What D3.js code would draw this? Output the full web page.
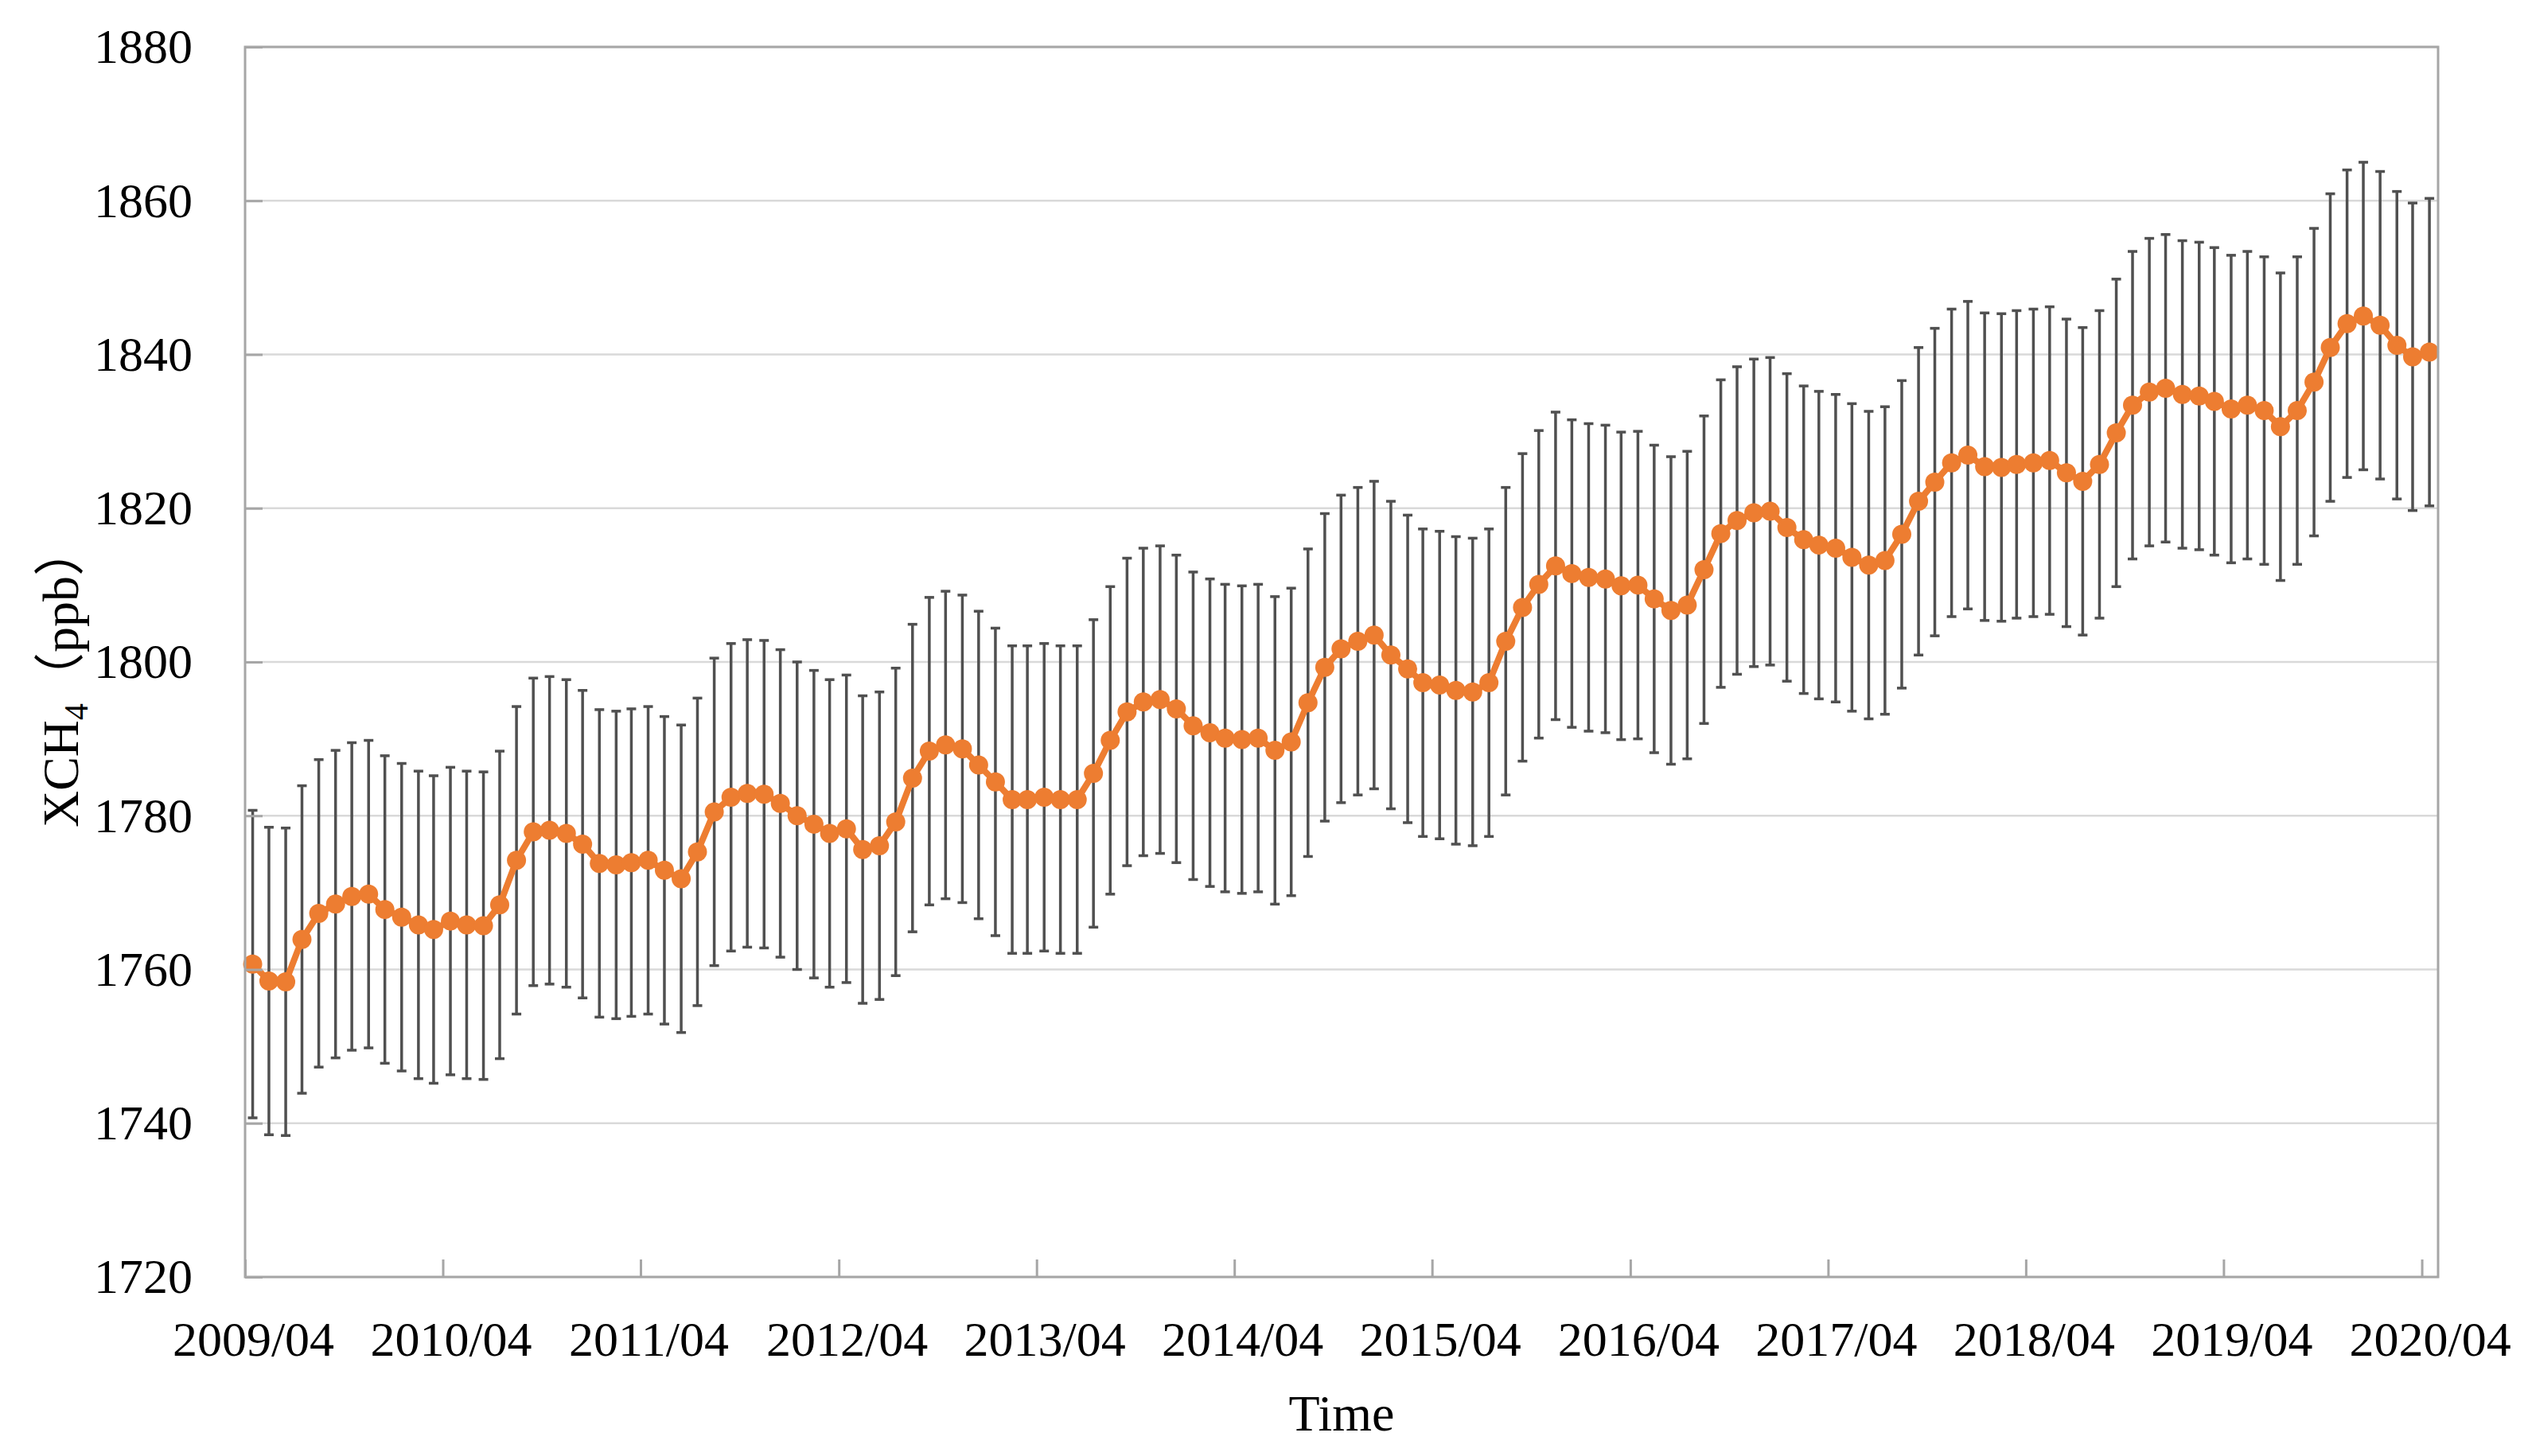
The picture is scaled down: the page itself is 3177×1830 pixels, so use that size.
<!DOCTYPE html>
<html>
<head>
<meta charset="utf-8">
<script src="https://cdn.jsdelivr.net/npm/d3@7"></script>
<style>
    body { margin: 0; background: #fff; }
    text { font-family: "Liberation Serif", "Noto Sans CJK SC", serif; fill: #000; }
</style>
</head>
<body>
<script>
(function(){

    //pseudo-global data
    var firstMonth = "2009-04"; //first monthly value
    var lastAxisMonth = "2020-05"; //axis ends here
    //monthly mean XCH4 (ppb), 2009/04 .. 2020/04
    var xch4 = [
        1760.7, 1758.5, 1758.4, 1763.9, 1767.3, 1768.5, 1769.5, 1769.8, 1767.8, 1766.8, 1765.8, 1765.2,
        1766.3, 1765.8, 1765.7, 1768.4, 1774.2, 1777.9, 1778.1, 1777.7, 1776.3, 1773.8, 1773.6, 1773.9,
        1774.2, 1772.9, 1771.8, 1775.3, 1780.5, 1782.4, 1782.9, 1782.8, 1781.6, 1780.0, 1778.9, 1777.7,
        1778.3, 1775.6, 1776.1, 1779.2, 1784.9, 1788.4, 1789.2, 1788.7, 1786.6, 1784.4, 1782.1, 1782.1,
        1782.4, 1782.1, 1782.1, 1785.5, 1789.8, 1793.5, 1794.8, 1795.1, 1793.9, 1791.7, 1790.8, 1790.1,
        1789.9, 1790.1, 1788.5, 1789.6, 1794.7, 1799.3, 1801.7, 1802.7, 1803.5, 1800.9, 1799.1, 1797.3,
        1797.0, 1796.3, 1796.1, 1797.3, 1802.7, 1807.1, 1810.1, 1812.5, 1811.5, 1811.0, 1810.8, 1809.9,
        1810.0, 1808.2, 1806.7, 1807.4, 1812.0, 1816.7, 1818.4, 1819.4, 1819.6, 1817.5, 1815.9, 1815.2,
        1814.8, 1813.6, 1812.6, 1813.2, 1816.6, 1820.9, 1823.4, 1825.9, 1826.9, 1825.4, 1825.3, 1825.7,
        1825.9, 1826.2, 1824.6, 1823.5, 1825.7, 1829.8, 1833.4, 1835.1, 1835.6, 1834.8, 1834.6, 1833.9,
        1832.9, 1833.4, 1832.7, 1830.6, 1832.7, 1836.4, 1840.9, 1844.0, 1845.0, 1843.8, 1841.2, 1839.7,
        1840.3
    ];
    var errorHalf = 20; //error bar half length (ppb), same on every point
    var yTicks = [1720, 1740, 1760, 1780, 1800, 1820, 1840, 1860, 1880];
    var xTickLabels = ["2009/04", "2010/04", "2011/04", "2012/04", "2013/04", "2014/04",
        "2015/04", "2016/04", "2017/04", "2018/04", "2019/04", "2020/04"];

    window.onload = setChart();

    function setChart(){
        //frame dimensions
        var width = 3177,
            height = 1830,
            left = 308,
            right = 3064,
            top = 59,
            bottom = 1605;

        var parseMonth = d3.timeParse("%Y-%m"),
            parseLabel = d3.timeParse("%Y/%m");

        var start = parseMonth(firstMonth);
        //points sit in the middle of each month
        var data = xch4.map(function(v, i){
            var m = d3.timeMonth.offset(start, i);
            return { date: d3.timeDay.offset(m, 14), value: v };
        });

        var svg = d3.select("body")
            .append("svg")
            .attr("width", width)
            .attr("height", height);

        var x = d3.scaleTime()
            .domain([start, parseMonth(lastAxisMonth)])
            .range([left, right]);

        var y = d3.scaleLinear()
            .domain([yTicks[0], yTicks[yTicks.length - 1]])
            .range([bottom, top]);

        //horizontal gridlines
        svg.append("g")
            .selectAll("line")
            .data(yTicks)
            .enter()
            .append("line")
            .attr("x1", left)
            .attr("x2", right)
            .attr("y1", function(d){ return y(d); })
            .attr("y2", function(d){ return y(d); })
            .style("stroke", "#d9d9d9")
            .style("stroke-width", 2.5);

        //error bars
        var bars = svg.append("g").attr("class", "errorbars")
            .style("stroke", "#505050")
            .style("stroke-width", 3.5);

        bars.selectAll(".stem")
            .data(data)
            .enter()
            .append("line")
            .attr("x1", function(d){ return x(d.date); })
            .attr("x2", function(d){ return x(d.date); })
            .attr("y1", function(d){ return y(d.value + errorHalf); })
            .attr("y2", function(d){ return y(d.value - errorHalf); });

        [errorHalf, -errorHalf].forEach(function(off){
            bars.selectAll(null)
                .data(data)
                .enter()
                .append("line")
                .attr("x1", function(d){ return x(d.date) - 6; })
                .attr("x2", function(d){ return x(d.date) + 6; })
                .attr("y1", function(d){ return y(d.value + off); })
                .attr("y2", function(d){ return y(d.value + off); });
        });

        //series line
        var line = d3.line()
            .x(function(d){ return x(d.date); })
            .y(function(d){ return y(d.value); });

        svg.append("path")
            .datum(data)
            .attr("d", line)
            .style("fill", "none")
            .style("stroke", "#ed7d31")
            .style("stroke-width", 8)
            .style("stroke-linejoin", "round");

        svg.append("g")
            .selectAll("circle")
            .data(data)
            .enter()
            .append("circle")
            .attr("cx", function(d){ return x(d.date); })
            .attr("cy", function(d){ return y(d.value); })
            .attr("r", 12)
            .style("fill", "#ed7d31");

        //plot frame
        svg.append("rect")
            .attr("x", left)
            .attr("y", top)
            .attr("width", right - left)
            .attr("height", bottom - top)
            .style("fill", "none")
            .style("stroke", "#a6a6a6")
            .style("stroke-width", 3);

        //y axis
        var yAxis = d3.axisLeft(y)
            .tickValues(yTicks)
            .tickFormat(d3.format("d"))
            .tickSizeInner(-22)
            .tickSizeOuter(0)
            .tickPadding(66);

        var ya = svg.append("g")
            .attr("transform", "translate(" + left + ",0)")
            .call(yAxis);
        ya.select(".domain").remove();
        ya.selectAll("line").style("stroke", "#a6a6a6").style("stroke-width", 3);
        ya.selectAll("text")
            .style("font-size", "62px")
            .style("font-family", "Liberation Serif, serif");

        //x axis
        var xDates = xTickLabels.map(function(s){ return parseLabel(s); });
        var xAxis = d3.axisBottom(x)
            .tickValues(xDates)
            .tickFormat(d3.timeFormat("%Y/%m"))
            .tickSizeInner(-22)
            .tickSizeOuter(0)
            .tickPadding(55);

        var xa = svg.append("g")
            .attr("transform", "translate(0," + bottom + ")")
            .call(xAxis);
        xa.select(".domain").remove();
        xa.selectAll("line").style("stroke", "#a6a6a6").style("stroke-width", 3);
        xa.selectAll("text")
            .attr("x", 10)
            .style("font-size", "62px")
            .style("font-family", "Liberation Serif, serif");

        //axis titles
        svg.append("text")
            .attr("x", (left + right) / 2)
            .attr("y", 1798)
            .attr("text-anchor", "middle")
            .style("font-size", "64px")
            .text("Time");

        var yTitle = svg.append("text")
            .attr("transform", "translate(98,850) rotate(-90)")
            .attr("text-anchor", "middle")
            .style("font-size", "64px");
        yTitle.append("tspan").text("XCH");
        yTitle.append("tspan")
            .attr("dy", 12)
            .style("font-size", "42px")
            .text("4");
        yTitle.append("tspan")
            .attr("dy", -12)
            .text("\uff08ppb\uff09");
    };

})();
</script>
</body>
</html>
